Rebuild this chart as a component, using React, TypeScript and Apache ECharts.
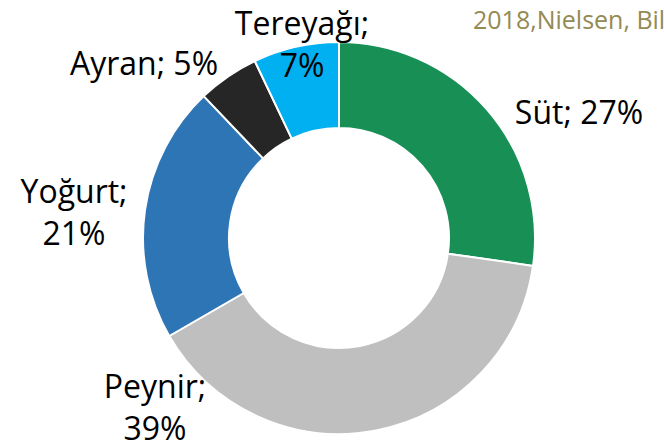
import React, { useEffect, useRef } from "react";
import * as echarts from "echarts";

const categories = ["Süt", "Peynir", "Yoğurt", "Ayran", "Tereyağı"];
const values = [27, 39, 21, 5, 7];
const colors = ["#178f55", "#bfbfbf", "#2e75b6", "#262626", "#00b0f0"];
const labelTexts = ["Süt; 27%", "Peynir;\n39%", "Yoğurt;\n21%", "Ayran; 5%", "Tereyağı;\n7%"];
const labelPos = [
  [579, 111],
  [155, 406],
  [74, 211],
  [144, 62],
  [302, 43],
];
const sourceText = "2018,Nielsen, Bilgi";

export default function App() {
  const ref = useRef<HTMLDivElement>(null);
  useEffect(() => {
    document.body.style.margin = "0";
    const chart = echarts.init(ref.current!, null, { renderer: "svg" });
    chart.setOption({
      animation: false,
      backgroundColor: "#ffffff",
      graphic: [
        {
          type: "text",
          left: 473,
          top: 6,
          style: {
            text: sourceText,
            fill: "#948a54",
            font: "25px 'Open Sans'",
          },
        },
      ],
      series: [
        {
          type: "pie",
          center: [339, 238],
          radius: [110, 196],
          startAngle: 90,
          clockwise: true,
          avoidLabelOverlap: false,
          itemStyle: { borderColor: "#ffffff", borderWidth: 2 },
          label: {
            show: true,
            position: "outside",
            color: "#000000",
            fontFamily: "Open Sans",
            fontSize: 32,
            lineHeight: 42,
            align: "center",
            formatter: (p: any) => labelTexts[p.dataIndex],
          },
          labelLine: { show: false },
          labelLayout: (p: any) => ({
            x: labelPos[p.dataIndex][0],
            y: labelPos[p.dataIndex][1],
            align: "center",
            verticalAlign: "middle",
          }),
          data: categories.map((c, i) => ({
            name: c,
            value: values[i],
            itemStyle: { color: colors[i] },
          })),
        },
      ],
    });
    return () => chart.dispose();
  }, []);
  return <div ref={ref} style={{ width: 664, height: 442 }} />;
}
